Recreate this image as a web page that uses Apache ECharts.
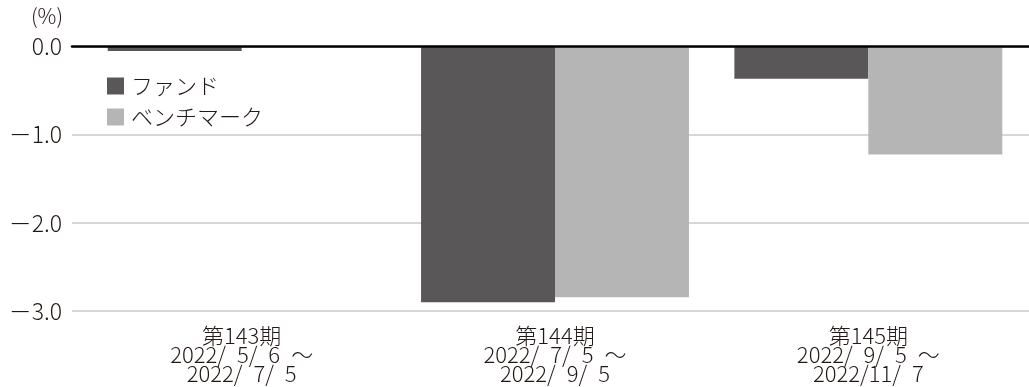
<!DOCTYPE html>
<html>
<head>
<meta charset="utf-8">
<script src="https://cdn.jsdelivr.net/npm/echarts@6/dist/echarts.min.js"></script>
<style>
html,body{margin:0;padding:0;background:#fff;}
#chart{width:1029px;height:387px;}
</style>
</head>
<body>
<div id="chart"></div>
<script>
// ---- data ----
const periods = ['第143期', '第144期', '第145期'];
const startDates = ['2022/\u20025/\u20026', '2022/\u20027/\u20025', '2022/\u20029/\u20025'];
const endDates = ['2022/\u20027/\u20025', '2022/\u20029/\u20025', '2022/11/\u20027'];
const fundValues = [-0.05, -2.90, -0.365];
const benchValues = [0, -2.845, -1.225];
const seriesNames = ['ファンド', 'ベンチマーク'];
const yTicks = [-3, -2, -1, 0];
const unitLabel = '(%)';

const FONT = '"Noto Sans CJK JP", sans-serif';
const W = 300;
const categories = periods.map((p, i) => p + '\n' + startDates[i] + '\u2002～\n' + endDates[i]);
const fmtTick = v => v === 0 ? '0.0' : '－' + Math.abs(v).toFixed(1);

const chart = echarts.init(document.getElementById('chart'), null, {renderer: 'canvas'});
chart.setOption({
  animation: false,
  backgroundColor: '#ffffff',
  textStyle: {fontFamily: FONT, fontWeight: W},
  graphic: [{
    type: 'text', left: 31, top: 6,
    style: {text: unitLabel, fontSize: 21, fontFamily: FONT, fontWeight: W, fill: '#231815'}
  }],
  legend: {
    orient: 'vertical', left: 107, top: 75, padding: 0,
    itemWidth: 17, itemHeight: 17, itemGap: 9,
    icon: 'rect',
    textStyle: {fontSize: 22, color: '#231815', fontFamily: FONT, fontWeight: W, padding: [0, 0, 0, 2]},
    data: seriesNames
  },
  grid: [
    {left: 72, right: 0, top: 46.5, bottom: 76, containLabel: false},
    {left: 85, right: 4, top: 46.5, bottom: 76, containLabel: false}
  ],
  xAxis: [
    {gridIndex: 0, type: 'value', min: 0, max: 1, z: 5,
     axisLine: {show: true, onZero: true, lineStyle: {color: '#000', width: 2.5}},
     axisTick: {show: false}, axisLabel: {show: false}, splitLine: {show: false}},
    {gridIndex: 1, type: 'category', data: categories,
     axisLine: {show: false}, axisTick: {show: false},
     axisLabel: {margin: 15, fontSize: 22, lineHeight: 19, color: '#231815', fontFamily: FONT, fontWeight: W, interval: 0}}
  ],
  yAxis: [
    {gridIndex: 0, type: 'value', min: yTicks[0], max: yTicks[yTicks.length - 1], interval: 1,
     axisLine: {show: false}, axisTick: {show: false},
     axisLabel: {margin: 10, fontSize: 23, color: '#231815', fontFamily: FONT, fontWeight: W, formatter: fmtTick},
     splitLine: {show: true, lineStyle: {color: '#c9caca', width: 1.5}}},
    {gridIndex: 1, type: 'value', min: yTicks[0], max: yTicks[yTicks.length - 1], interval: 1,
     axisLine: {show: false}, axisTick: {show: false}, axisLabel: {show: false}, splitLine: {show: false}}
  ],
  series: [
    {name: seriesNames[0], type: 'bar', xAxisIndex: 1, yAxisIndex: 1, data: fundValues,
     itemStyle: {color: '#595757'}, barGap: '0%', barCategoryGap: '14.5%'},
    {name: seriesNames[1], type: 'bar', xAxisIndex: 1, yAxisIndex: 1, data: benchValues,
     itemStyle: {color: '#b5b5b5'}, barGap: '0%', barCategoryGap: '14.5%'}
  ]
});
</script>
</body>
</html>
